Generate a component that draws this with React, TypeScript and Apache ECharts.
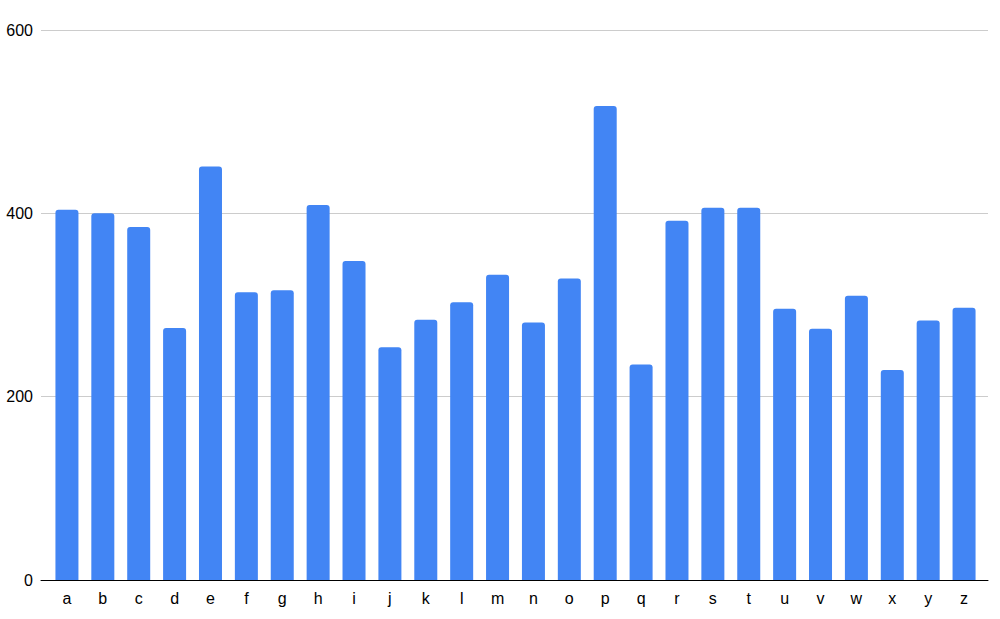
import React, { useEffect, useRef } from "react";
import * as echarts from "echarts";

const categories = ["a","b","c","d","e","f","g","h","i","j","k","l","m","n","o","p","q","r","s","t","u","v","w","x","y","z"];
const values = [404,400,385,275,451,314,316,409,348,254,284,303,333,281,329,517,235,392,406,406,296,274,310,229,283,297];
const yTicks = [0, 200, 400, 600];

export default function App() {
  const ref = useRef<HTMLDivElement>(null);
  useEffect(() => {
    const chart = echarts.init(ref.current!, null, { renderer: "svg" });
    const font = "Arial, 'Liberation Sans', sans-serif";
    chart.setOption({
      animation: false,
      backgroundColor: "#ffffff",
      grid: [
        { left: 41, right: 12, top: 30, bottom: 39, containLabel: false },
        { left: 49, right: 18, top: 30, bottom: 39, containLabel: false },
      ],
      xAxis: [
        {
          gridIndex: 0, type: "value", min: 0, max: 1,
          axisLine: { show: true, onZero: false, lineStyle: { color: "#000000", width: 1 } },
          axisTick: { show: false }, axisLabel: { show: false }, splitLine: { show: false },
        },
        {
          gridIndex: 1, type: "category", data: categories,
          axisLine: { show: false }, axisTick: { show: false },
          axisLabel: { color: "#000000", fontSize: 16, fontFamily: font, margin: 10 },
        },
      ],
      yAxis: [
        {
          gridIndex: 0, type: "value", min: yTicks[0], max: yTicks[yTicks.length - 1], interval: 200,
          axisLine: { show: false }, axisTick: { show: false },
          axisLabel: { color: "#000000", fontSize: 16, fontFamily: font, margin: 8 },
          splitLine: { show: true, lineStyle: { color: "#cccccc", width: 1 } },
        },
        {
          gridIndex: 1, type: "value", min: 0, max: 600, interval: 200, show: false,
          splitLine: { show: false },
        },
      ],
      series: [
        {
          type: "bar", xAxisIndex: 1, yAxisIndex: 1, data: values,
          barWidth: 23,
          itemStyle: { color: "#4285F4", borderRadius: [3, 3, 0, 0] },
        },
      ],
    });
    return () => chart.dispose();
  }, []);
  return <div ref={ref} style={{ width: 1000, height: 619, position: "absolute", left: 0, top: 0 }} />;
}
